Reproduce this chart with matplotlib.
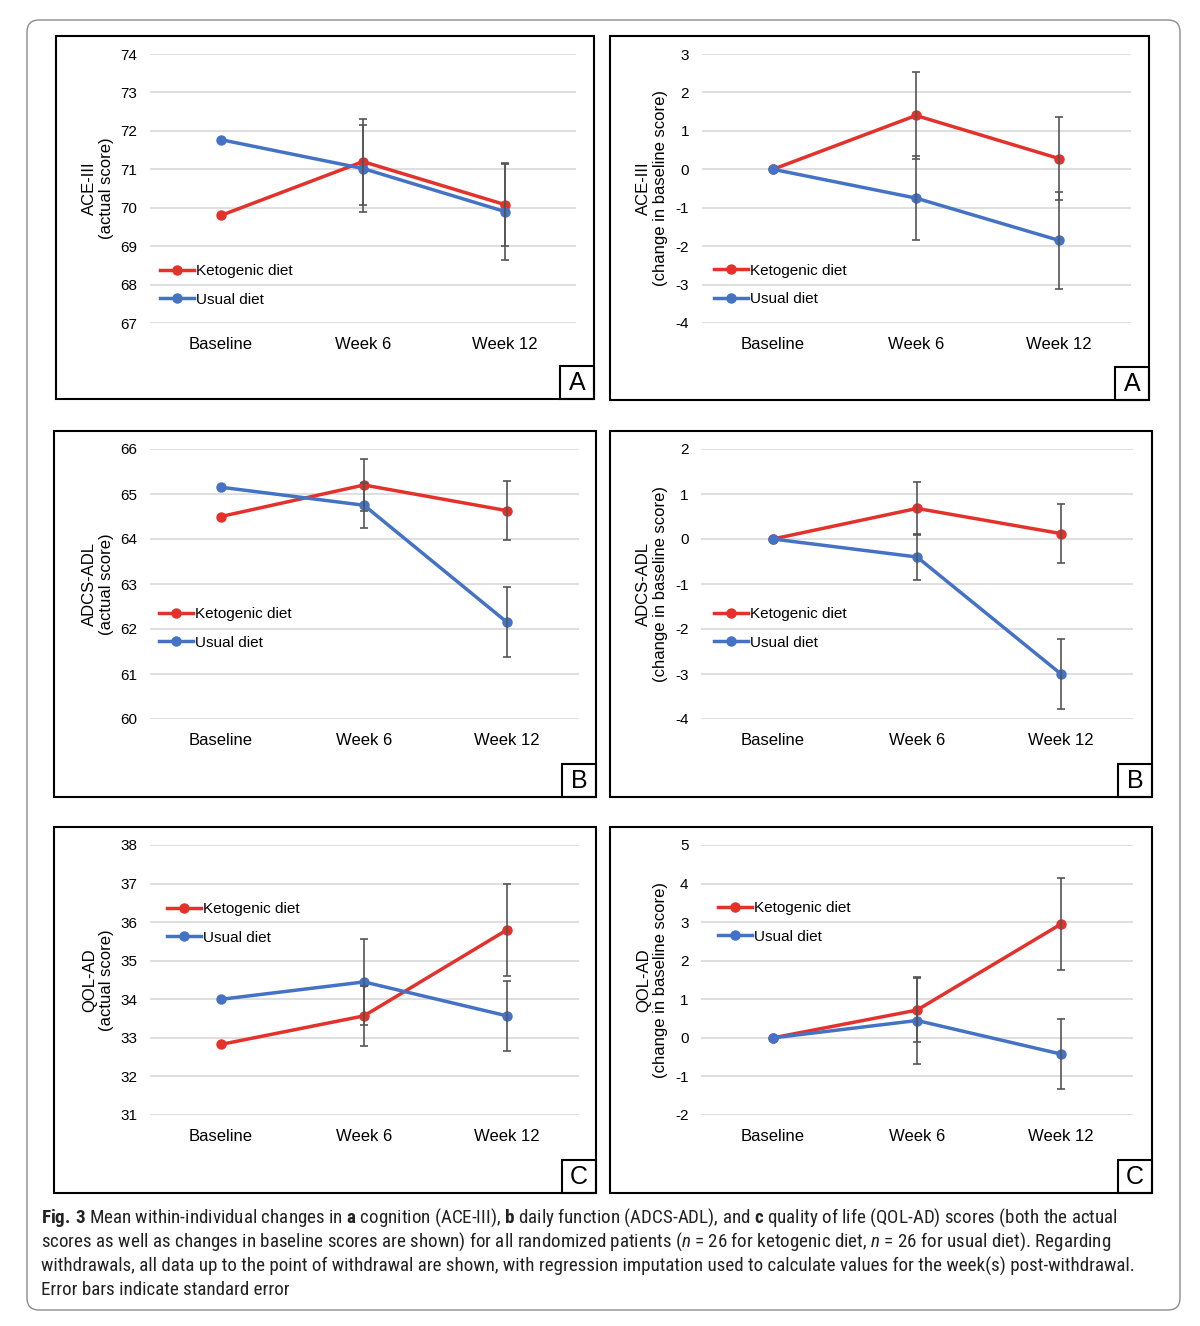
import matplotlib
matplotlib.use('Agg')

import matplotlib.pyplot as plt
from matplotlib import font_manager
from matplotlib.patches import Rectangle, FancyBboxPatch

W, H = 1200, 1326

categories = ['Baseline', 'Week 6', 'Week 12']

# ACE-III
ace_act_keto = [69.80, 71.20, 70.08]
ace_act_keto_se = [0, 1.12, 1.08]
ace_act_usual = [71.77, 71.02, 69.90]
ace_act_usual_se = [0, 1.12, 1.25]
ace_chg_keto = [0, 1.40, 0.28]
ace_chg_keto_se = [0, 1.12, 1.08]
ace_chg_usual = [0, -0.75, -1.85]
ace_chg_usual_se = [0, 1.10, 1.27]

# ADCS-ADL
adl_act_keto = [64.50, 65.20, 64.63]
adl_act_keto_se = [0, 0.57, 0.65]
adl_act_usual = [65.15, 64.75, 62.15]
adl_act_usual_se = [0, 0.50, 0.78]
adl_chg_keto = [0, 0.68, 0.12]
adl_chg_keto_se = [0, 0.58, 0.65]
adl_chg_usual = [0, -0.40, -3.00]
adl_chg_usual_se = [0, 0.52, 0.78]

# QOL-AD
qol_act_keto = [32.83, 33.57, 35.80]
qol_act_keto_se = [0, 0.77, 1.20]
qol_act_usual = [34.00, 34.45, 33.57]
qol_act_usual_se = [0, 1.12, 0.90]
qol_chg_keto = [0, 0.72, 2.95]
qol_chg_keto_se = [0, 0.82, 1.20]
qol_chg_usual = [0, 0.45, -0.42]
qol_chg_usual_se = [0, 1.12, 0.90]

RED = '#E2322B'
BLUE = '#4472C4'
GRID = '#D9D9D9'
ERR = '#555555'


def font_ok(name):
  try:
    font_manager.findfont(font_manager.FontProperties(family=name), fallback_to_default=False)
    return True
  except Exception:
    return False

MAIN = 'Liberation Sans' if font_ok('Liberation Sans') else 'DejaVu Sans'
CAP = MAIN
for f in ['Liberation Sans Narrow', 'Roboto Condensed', 'Open Sans Condensed']:
  if font_ok(f):
    CAP = f
    break

plt.rcParams['font.family'] = MAIN
plt.rcParams['mathtext.fontset'] = 'custom'
plt.rcParams['mathtext.rm'] = CAP
plt.rcParams['mathtext.bf'] = CAP + ':bold'
plt.rcParams['mathtext.it'] = CAP + ':italic'

fig = plt.figure(figsize=(W / 100, H / 100), dpi=100)


def fr(x0, y0, x1, y1):
  # pixel box (top-left origin) -> figure fraction rect
  return [x0 / W, 1 - y1 / H, (x1 - x0) / W, (y1 - y0) / H]


def panel(box, axbox, keto, keto_se, usual, usual_se, yr, ylab, ylab_x, leg, letter):
  bx0, by0, bx1, by1 = box
  fig.patches.append(Rectangle((bx0 / W, 1 - by1 / H), (bx1 - bx0) / W, (by1 - by0) / H,
                               transform=fig.transFigure, fill=False, edgecolor='black', linewidth=1.5))
  fig.patches.append(Rectangle(((bx1 - 34) / W, 1 - by1 / H), 34 / W, 33 / H,
                               transform=fig.transFigure, fill=False, edgecolor='black', linewidth=1.5))
  fig.text((bx1 - 17) / W, 1 - (by1 - 16) / H, letter, ha='center', va='center', fontsize=18)

  ax = fig.add_axes(fr(*axbox))
  x = list(range(len(categories)))
  ax.plot(x, keto, color=RED, lw=2.5, marker='o', ms=6.5, label='Ketogenic diet', zorder=3)
  ax.plot(x, usual, color=BLUE, lw=2.5, marker='o', ms=6.5, label='Usual diet', zorder=4)
  ax.errorbar(x[1:], keto[1:], yerr=keto_se[1:], fmt='none', ecolor=ERR, elinewidth=1.2,
              capsize=3.2, capthick=1.2, zorder=5)
  ax.errorbar(x[1:], usual[1:], yerr=usual_se[1:], fmt='none', ecolor=ERR, elinewidth=1.2,
              capsize=3.2, capthick=1.2, zorder=5)
  ax.set_xlim(-0.5, len(categories) - 0.5)
  ax.set_ylim(yr[0], yr[-1])
  ax.set_yticks(yr)
  ax.set_yticklabels([str(v) for v in yr], fontsize=11)
  ax.set_xticks(x)
  ax.set_xticklabels(categories, fontsize=12)
  ax.tick_params(axis='y', length=0, pad=9)
  ax.tick_params(axis='x', length=0, pad=10)
  ax.grid(axis='y', color=GRID, lw=1.2)
  ax.set_axisbelow(True)
  for s in ax.spines.values():
    s.set_visible(False)
  ax.patch.set_alpha(0)

  ay0, ay1 = axbox[1], axbox[3]
  fig.text(ylab_x / W, 1 - (ay0 + ay1) / 2 / H, ylab, rotation=90, ha='center', va='center',
           fontsize=12, multialignment='center', linespacing=1.15)

  lx, ly = leg
  ax.legend(loc='center left', bbox_to_anchor=(lx / W, 1 - ly / H), bbox_transform=fig.transFigure,
            frameon=False, fontsize=11, handlelength=2.2, handletextpad=0.15, labelspacing=0.95,
            borderpad=0, borderaxespad=0)
  return ax


yA1 = [67, 68, 69, 70, 71, 72, 73, 74]
yA2 = [-4, -3, -2, -1, 0, 1, 2, 3]
yB1 = [60, 61, 62, 63, 64, 65, 66]
yB2 = [-4, -3, -2, -1, 0, 1, 2]
yC1 = [31, 32, 33, 34, 35, 36, 37, 38]
yC2 = [-2, -1, 0, 1, 2, 3, 4, 5]

panel((56, 36, 594, 399), (150, 54, 576, 323), ace_act_keto, ace_act_keto_se, ace_act_usual,
      ace_act_usual_se, yA1, 'ACE-III\n(actual score)', 98, (160, 285.5), 'A')
panel((610, 36, 1149, 400), (701.5, 54, 1130.5, 323), ace_chg_keto, ace_chg_keto_se, ace_chg_usual,
      ace_chg_usual_se, yA2, 'ACE-III\n(change in baseline score)', 652, (714, 285), 'A')
panel((54, 431, 596, 797), (149.5, 449, 578.5, 719), adl_act_keto, adl_act_keto_se, adl_act_usual,
      adl_act_usual_se, yB1, 'ADCS-ADL\n(actual score)', 98, (159, 628.5), 'B')
panel((610, 431, 1152, 797), (701, 449, 1133, 719), adl_chg_keto, adl_chg_keto_se, adl_chg_usual,
      adl_chg_usual_se, yB2, 'ADCS-ADL\n(change in baseline score)', 652, (714, 628.5), 'B')
panel((54, 827, 596, 1193), (149.5, 845, 578.5, 1115), qol_act_keto, qol_act_keto_se, qol_act_usual,
      qol_act_usual_se, yC1, 'QOL-AD\n(actual score)', 98, (167, 923.5), 'C')
panel((610, 827, 1152, 1193), (701, 845, 1133, 1115), qol_chg_keto, qol_chg_keto_se, qol_chg_usual,
      qol_chg_usual_se, yC2, 'QOL-AD\n(change in baseline score)', 652, (718, 922.5), 'C')

# outer rounded frame
fig.patches.append(FancyBboxPatch((27, H - 1310), 1153, 1290, boxstyle='round,pad=0,rounding_size=12',
                                  transform=None, fill=False, edgecolor='#8C8C8C', linewidth=1.0))

# caption
cap_lines = [
  r'$\mathbf{Fig.\,3}$ Mean within-individual changes in $\mathbf{a}$ cognition (ACE-III), $\mathbf{b}$ daily function (ADCS-ADL), and $\mathbf{c}$ quality of life (QOL-AD) scores (both the actual',
  r'scores as well as changes in baseline scores are shown) for all randomized patients ($\mathit{n}$ = 26 for ketogenic diet, $\mathit{n}$ = 26 for usual diet). Regarding',
  'withdrawals, all data up to the point of withdrawal are shown, with regression imputation used to calculate values for the week(s) post-withdrawal.',
  'Error bars indicate standard error',
]
cap_y = [1218, 1242, 1266, 1290]

# fit caption size so the longest line spans the same width as in the figure
probe = fig.text(0, 0, cap_lines[2], fontsize=12, family=CAP)
r = fig.canvas.get_renderer()
wpx = probe.get_window_extent(renderer=r).width
probe.remove()
cap_fs = 12 * 1096.0 / wpx

for t, y in zip(cap_lines, cap_y):
  fig.text(41 / W, 1 - y / H, t, fontsize=cap_fs, family=CAP, ha='left', va='center', color='#222222')

plt.savefig('out.png', dpi=100, facecolor='white')
